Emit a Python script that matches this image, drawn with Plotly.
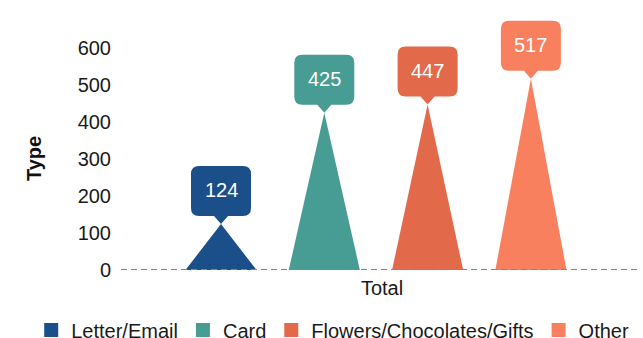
import plotly.graph_objects as go

# Responses by type
categories = ["Letter/Email", "Card", "Flowers/Chocolates/Gifts", "Other"]
values = [124, 425, 447, 517]
colors = ["#1b4f8a", "#479c93", "#e3694b", "#f8805f"]
y_ticks = [0, 100, 200, 300, 400, 500, 600]

HALF_W = 0.344  # half base width of each spike, in x units
FONT = "Liberation Sans, Arial, sans-serif"

fig = go.Figure()

for i, (name, v, c) in enumerate(zip(categories, values, colors)):
    # triangular spike from the baseline up to the value
    fig.add_trace(go.Scatter(
        x=[i - HALF_W, i, i + HALF_W, i - HALF_W],
        y=[0, v, 0, 0],
        mode="lines",
        fill="toself",
        fillcolor=c,
        line=dict(width=0, color=c),
        hoverinfo="skip",
        showlegend=False,
    ))
    # legend entry with a square swatch
    fig.add_trace(go.Bar(
        x=[None], y=[None], name=name,
        marker=dict(color=c, line=dict(color=c, width=2)),
    ))

# rounded callout with a pointer, in pixels relative to the spike tip
callout = ("M 0 0 L -7 8 L -22 8 Q -30 8 -30 16 L -30 50 Q -30 58 -22 58 "
           "L 22 58 Q 30 58 30 50 L 30 16 Q 30 8 22 8 L 7 8 Z")

shapes = [dict(
    type="line", xref="paper", yref="y", x0=0, x1=0.994, y0=0, y1=0,
    line=dict(color="#858585", width=2, dash="6px,4px"), layer="above",
)]
annotations = []
for i, (v, c) in enumerate(zip(values, colors)):
    shapes.append(dict(
        type="path", xref="x", yref="y",
        xsizemode="pixel", ysizemode="pixel", xanchor=i, yanchor=v,
        path=callout, fillcolor=c, line=dict(width=0), layer="above",
    ))
    annotations.append(dict(
        x=i, y=v, xref="x", yref="y", text=str(v), showarrow=False,
        yshift=34, font=dict(color="white", size=20, family=FONT),
    ))

# y-axis title, centred on the 0-600 tick span
annotations.append(dict(
    x=0, xref="paper", xshift=-100, y=300, yref="y", text="<b>Type</b>",
    textangle=-90, showarrow=False, font=dict(size=20, color="#111111"),
))

fig.update_layout(
    width=643, height=338,
    margin=dict(l=121, r=0, t=11, b=68, autoexpand=False),
    paper_bgcolor="white", plot_bgcolor="white",
    font=dict(family=FONT, color="#1a1a1a", size=20),
    shapes=shapes, annotations=annotations,
    showlegend=True,
    legend=dict(
        orientation="h", xref="paper", yref="paper",
        x=-0.172, xanchor="left", y=-0.232, yanchor="middle",
        font=dict(size=20, color="#1a1a1a"), itemclick=False,
        bgcolor="rgba(0,0,0,0)",
    ),
    xaxis=dict(
        range=[-0.968, 4.085], showgrid=False, zeroline=False,
        showticklabels=False, ticks="", showline=False,
        title=dict(text="Total", standoff=10, font=dict(size=20)),
    ),
    yaxis=dict(
        range=[0, 700], tickvals=y_ticks, showgrid=False, zeroline=False,
        showline=False, ticks="", ticklabelstandoff=9,
    ),
)

fig.write_html("out.html")
